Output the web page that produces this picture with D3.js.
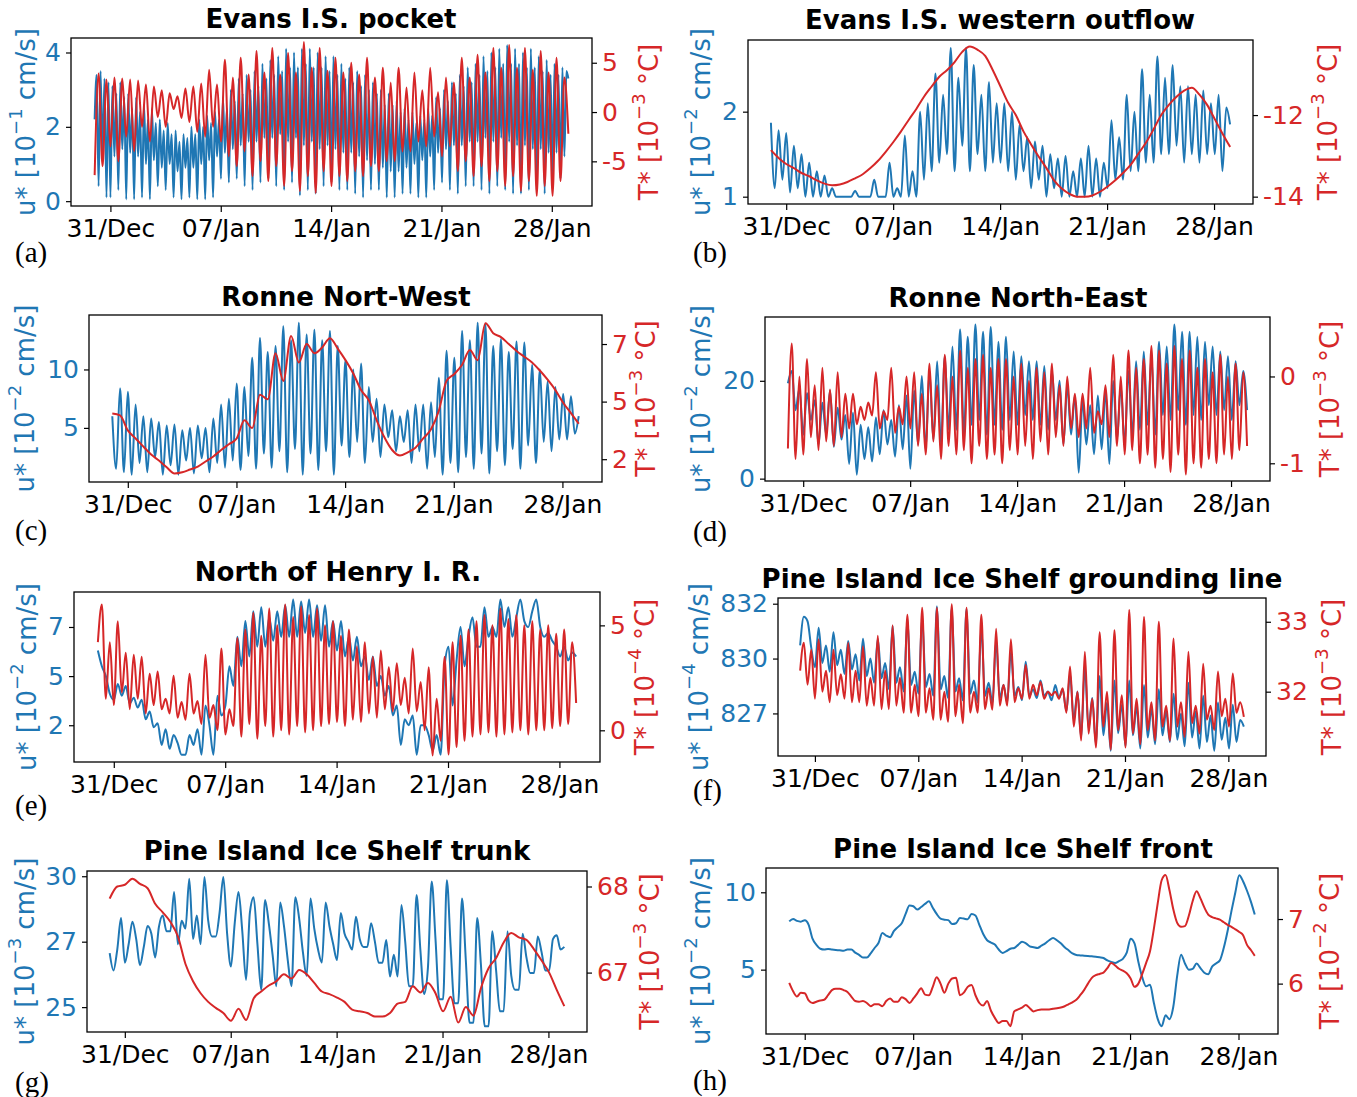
<!DOCTYPE html>
<html>
<head>
<meta charset="utf-8">
<script src="https://cdn.jsdelivr.net/npm/d3@7"></script>
<style>body{margin:0;background:#fff}</style>
</head>
<body>
<svg id="fig" width="1357" height="1097"></svg>
<script>
// time axis, in days from 31/Dec 00:00
const tStart = -1, tEnd = 29.05;
const xDomain = [-2.5, 30.55];
const tickDays = [0, 7, 14, 21, 28];
const tickLabels = ['31/Dec', '07/Jan', '14/Jan', '21/Jan', '28/Jan'];

const titles = ['Evans I.S. pocket', 'Evans I.S. western outflow', 'Ronne Nort-West', 'Ronne North-East',
  'North of Henry I. R.', 'Pine Island Ice Shelf grounding line', 'Pine Island Ice Shelf trunk', 'Pine Island Ice Shelf front'];
const tags = ['(a)', '(b)', '(c)', '(d)', '(e)', '(f)', '(g)', '(h)'];
const uExp = ['\u22121', '\u22122', '\u22122', '\u22122', '\u22122', '\u22124', '\u22123', '\u22122'];
const tExp = ['\u22123', '\u22123', '\u22123', '\u22123', '\u22124', '\u22123', '\u22123', '\u22122'];
// tick values (labels are printed as integers, like the original)
const uTicks = [[0, 2, 4], [1, 2], [5, 10], [0, 20], [2.5, 5, 7.5], [827.5, 830, 832.5], [25, 27.5, 30], [5, 10]];
const tTicks = [[-5, 0, 5], [-14, -12], [2.5, 5, 7.5], [-1, 0], [0, 5], [32, 33], [67, 68], [6, 7]];
const uLims = [[-0.13, 4.39], [0.914, 2.843], [0.37, 14.66], [-0.48, 33.04], [0.63, 9.28], [825.56, 832.76], [24.05, 30.2], [0.84, 11.57]];
const tLims = [[-9.53, 7.51], [-14.18, -10.16], [1.51, 8.76], [-1.204, 0.685], [-1.51, 6.59], [31.08, 33.34], [66.31, 68.18], [5.22, 7.79]];

// (a) Evans I.S. pocket
const uA = [
  2.2, 3.4, 0.4, 3.5, 1.2, 3.3, 0.1, 3.2,
  0.1, 3.1, 1.2, 2.9, 0.3, 3.2, 1.4, 2.8,
  0.05, 2.9, 1.3, 2.5, 0.05, 2.8, 1.2, 2.4,
  0.1, 2.6, 1.0, 2.2, 0.05, 2.5, 1.1, 2.1,
  0.4, 2.2, 0.9, 1.9, 0.3, 2.1, 1.0, 1.8,
  0.1, 1.9, 0.8, 1.6, 0.05, 1.8, 0.9, 1.7,
  0.1, 2.0, 0.9, 1.8, 0.05, 2.2, 1.0, 2.0,
  0.05, 2.3, 1.1, 2.1, 0.1, 2.4, 1.2, 2.2,
  0.6, 2.8, 1.3, 2.5, 0.5, 3.0, 1.4, 2.7,
  0.6, 3.3, 1.5, 2.9, 0.4, 3.4, 1.6, 3.0,
  0.3, 3.5, 1.6, 3.1, 0.5, 3.7, 1.7, 3.3,
  0.6, 3.8, 1.7, 3.4, 0.4, 3.9, 1.8, 3.5,
  0.3, 4.1, 1.6, 3.6, 0.5, 4.0, 1.7, 3.6,
  0.15, 4.1, 1.5, 3.7, 0.3, 4.1, 1.6, 3.6,
  0.2, 4.0, 1.4, 3.6, 0.4, 3.9, 1.5, 3.5,
  0.5, 3.9, 1.4, 3.4, 0.3, 3.7, 1.3, 3.3,
  0.3, 3.6, 1.3, 3.2, 0.2, 3.5, 1.2, 3.1,
  0.1, 3.4, 1.1, 3.0, 0.3, 3.2, 1.0, 2.9,
  0.3, 3.0, 0.9, 2.6, 0.1, 2.9, 0.8, 2.6,
  0.1, 2.7, 0.8, 2.4, 0.2, 2.5, 0.9, 2.2,
  0.2, 2.4, 1.0, 2.1, 0.1, 2.3, 1.1, 2.2,
  0.1, 2.5, 1.2, 2.3, 0.3, 2.8, 1.3, 2.5,
  0.5, 3.0, 1.4, 2.7, 0.3, 3.2, 1.5, 2.9,
  0.2, 3.4, 1.5, 3.1, 0.4, 3.6, 1.6, 3.2,
  0.4, 3.7, 1.6, 3.4, 0.3, 3.9, 1.7, 3.5,
  0.2, 4.0, 1.6, 3.6, 0.4, 4.1, 1.7, 3.7,
  0.3, 4.2, 1.6, 3.7, 0.2, 4.1, 1.5, 3.7,
  0.2, 4.0, 1.5, 3.6, 0.3, 4.1, 1.4, 3.6,
  0.3, 3.9, 1.4, 3.5, 0.2, 3.8, 1.3, 3.4,
  0.5, 3.7, 1.3, 3.4, 0.6, 3.6, 1.2, 3.5,
  3.3];
const tA = [
  -6.4, 3.9, -5.5, 3.3,  -3.5, 3.5, -5.0, 3.4,  -2.5, 3.3, -4.0, 3.2,
  -1.5, 2.8, -3.0, 2.6,  -0.5, 2.2, -1.5, 1.9,  0.3, 1.6, -0.6, 2.4,
  -1.0, 2.6, -2.0, 2.9,  -2.5, 4.3, -1.5, 2.8,  -3.0, 5.3, -4.5, 3.5,
  -5.5, 5.5, -4.0, 3.8,  -6.5, 6.2, -5.0, 4.0,  -7.0, 6.5, -5.5, 3.8,
  -7.5, 6.0, -6.0, 4.0,  -8.0, 7.1, -6.5, 4.5,  -8.2, 6.5, -6.0, 4.2,
  -7.5, 5.5, -6.5, 4.0,  -7.0, 5.0, -6.0, 3.8,  -6.5, 5.5, -5.5, 3.5,
  -6.0, 4.5, -5.0, 3.0,  -5.0, 4.5, -4.0, 2.5,  -4.0, 4.0, -3.0, 2.2,
  -3.5, 4.5, -2.5, 2.0,  -4.5, 3.5, -3.5, 3.0,  -6.0, 5.5, -5.0, 3.5,
  -6.5, 5.8, -5.5, 4.0,  -7.0, 6.5, -6.0, 4.5,  -7.5, 6.8, -6.5, 4.5,
  -8.0, 6.5, -7.0, 4.3,  -8.5, 6.2, -7.5, 4.0,  -8.5, 5.5, -7.0, 3.5,
  -2.2];

// (b) Evans I.S. western outflow
const uB = [
  1.87, 1.1, 1.78, 1.2,  1.75, 1.05, 1.6, 1.1,  1.5, 1.0, 1.4, 1.0,
  1.3, 1.0, 1.25, 1.0,  1.1, 1.0, 1.0, 1.0,  1.0, 1.0, 1.07, 1.0,
  1.0, 1.0, 1.0, 1.2,  1.0, 1.0, 1.0, 1.4,  1.0, 1.1, 1.0, 1.72,
  1.0, 1.3, 1.0, 2.0,  1.2, 2.1, 1.3, 2.45,  1.4, 2.2, 1.5, 2.75,
  1.3, 2.4, 1.6, 2.75,  1.3, 2.55, 1.5, 2.2,  1.3, 2.35, 1.4, 2.1,
  1.4, 2.1, 1.3, 2.0,  1.2, 1.85, 1.3, 1.7,  1.1, 1.65, 1.2, 1.6,
  1.0, 1.5, 1.1, 1.45,  1.0, 1.48, 1.0, 1.3,  1.0, 1.45, 1.0, 1.6,
  1.0, 1.45, 1.0, 1.4,  1.1, 1.9, 1.2, 1.7,  1.2, 2.2, 1.3, 2.0,
  1.3, 2.5, 1.4, 2.2,  1.4, 2.65, 1.5, 2.4,  1.5, 2.55, 1.6, 2.3,
  1.4, 2.3, 1.5, 2.2,  1.4, 2.25, 1.5, 2.1,  1.5, 2.2, 1.3, 2.05,
  1.85];
const tB = [
  -12.86, -13.05, -13.2, -13.3, -13.42, -13.5, -13.6, -13.68, -13.72, -13.7,
  -13.64, -13.55, -13.45, -13.3, -13.12, -12.9, -12.66, -12.4, -12.12, -11.85,
  -11.55, -11.3, -11.06, -10.9, -10.7, -10.45, -10.32, -10.4, -10.55, -10.9,
  -11.3, -11.7, -12.0, -12.4, -12.72, -13.02, -13.3, -13.6, -13.8, -13.93,
  -14.0, -14.0, -13.97, -13.88, -13.75, -13.6, -13.42, -13.22, -12.95, -12.68,
  -12.35, -12.0, -11.75, -11.55, -11.4, -11.33, -11.5, -11.75, -12.1, -12.45,
  -12.78];

// (c) Ronne Nort-West
const uC = [
  6.0, 1.5, 8.4, 1.2,  8.1, 1.0, 7.0, 2.0,  6.0, 1.2, 5.8, 2.5,
  5.5, 1.0, 5.2, 1.8,  5.3, 1.0, 4.8, 2.2,  5.0, 1.1, 5.2, 2.4,
  5.0, 1.2, 5.8, 2.0,  7.0, 1.6, 7.5, 2.2,  8.8, 1.4, 8.5, 2.6,
  11.0, 1.5, 12.7, 2.8,  11.5, 1.6, 12.0, 3.0,  13.7, 1.2, 12.5, 3.2,
  14.0, 1.0, 13.0, 2.8,  13.4, 1.4, 12.5, 3.0,  13.3, 1.0, 12.0, 3.5,
  10.8, 2.5, 10.0, 3.8,  10.5, 2.0, 8.5, 3.8,  7.5, 2.5, 7.0, 4.2,
  6.5, 3.0, 6.0, 3.8,  6.5, 2.0, 7.0, 3.0,  7.0, 1.5, 7.2, 2.5,
  9.3, 1.0, 11.6, 2.0,  11.0, 1.2, 13.3, 2.5,  12.5, 1.5, 14.0, 2.8,
  13.9, 1.1, 12.0, 3.0,  12.6, 1.8, 11.5, 3.2,  12.4, 1.5, 12.3, 3.5,
  10.4, 2.0, 10.0, 3.8,  9.0, 3.0, 8.5, 4.0,  7.9, 4.0, 7.7, 4.5,
  6.0];
const tC = [
  4.48, 4.4, 3.75, 3.4, 3.05, 2.7, 2.44, 2.15, 1.88, 1.93,
  2.05, 2.18, 2.4, 2.62, 2.9, 3.15, 3.4, 4.19, 3.85, 5.3,
  5.1, 7.1, 5.9, 7.85, 6.7, 7.5, 7.1, 7.35, 7.75, 7.3,
  6.8, 6.22, 5.5, 5.06, 4.2, 3.45, 2.9, 2.66, 2.8, 3.0,
  3.4, 3.8, 4.6, 5.9, 6.2, 6.6, 7.24, 6.8, 8.4, 7.97,
  7.8, 7.5, 7.2, 6.95, 6.7, 6.35, 5.95, 5.5, 4.95, 4.5,
  4.04];

// (d) Ronne North-East
const uD = [
  19.5, 22.0, 14.0, 18.5,  9.0, 17.5, 12.0, 16.0,  7.0, 15.5, 9.0, 18.0,
  6.5, 14.5, 8.0, 13.0,  3.0, 13.5, 0.8, 11.0,  4.0, 10.5, 3.5, 12.5,
  5.0, 14.0, 7.0, 12.0,  4.5, 15.0, 6.0, 17.0,  2.0, 18.0, 7.0, 21.0,
  6.0, 22.0, 8.0, 24.0,  7.0, 25.0, 10.0, 27.0,  10.0, 30.5, 9.0, 29.0,
  11.0, 31.5, 12.0, 30.0,  9.0, 31.0, 11.0, 28.0,  10.0, 29.0, 12.0, 26.0,
  11.0, 25.0, 13.0, 24.0,  12.0, 24.0, 11.0, 23.0,  10.0, 22.0, 12.0, 20.0,
  7.0, 19.0, 9.0, 17.0,  1.2, 16.0, 7.0, 15.0,  5.0, 17.0, 6.0, 18.0,
  3.0, 20.0, 8.0, 19.0,  7.0, 22.0, 9.0, 24.0,  10.0, 26.0, 11.0, 25.0,
  9.0, 28.0, 13.0, 27.0,  12.0, 31.5, 14.0, 30.0,  11.0, 30.0, 13.0, 29.0,
  12.0, 28.0, 15.0, 27.0,  13.0, 26.0, 14.0, 25.0,  12.0, 24.0, 15.0, 22.0,
  14.0];
const tD = [
  -0.83, 0.38, -0.95, 0.0,  -0.9, 0.2, -0.7, -0.1,  -0.85, 0.1, -0.75, -0.15,
  -0.8, 0.05, -0.7, -0.2,  -0.6, -0.2, -0.55, -0.35,  -0.5, -0.3, -0.45, 0.05,
  -0.6, -0.4, -0.5, 0.1,  -0.65, -0.35, -0.55, 0.0,  -0.6, 0.05, -0.8, -0.2,
  -0.9, 0.15, -0.75, -0.1,  -0.95, 0.25, -0.8, 0.0,  -0.9, 0.3, -0.85, 0.1,
  -1.0, 0.2, -0.8, 0.25,  -0.95, 0.1, -0.9, 0.2,  -1.0, 0.2, -0.85, 0.0,
  -0.9, 0.15, -0.8, -0.05,  -0.95, 0.1, -0.75, 0.05,  -0.9, 0.15, -0.7, -0.1,
  -0.8, 0.0, -0.6, -0.2,  -0.7, -0.2, -0.6, 0.1,  -0.65, -0.4, -0.55, -0.1,
  -0.7, 0.25, -0.8, 0.0,  -0.9, 0.3, -0.85, 0.1,  -1.0, 0.2, -0.9, 0.35,
  -1.05, 0.3, -0.95, 0.15,  -1.1, 0.35, -0.9, 0.2,  -1.13, 0.3, -1.0, 0.1,
  -1.05, 0.2, -0.95, 0.05,  -1.0, 0.25, -0.9, 0.0,  -0.95, 0.15, -0.85, 0.05,
  -0.8];

// (e) North of Henry I. R.
const uE = [
  6.3, 5.5, 5.0, 4.1,  3.8, 4.6, 4.0, 4.5,  3.6, 3.9, 3.4, 3.8,
  2.8, 3.2, 2.4, 2.6,  1.5, 2.3, 1.3, 2.0,  1.6, 1.0, 1.0, 2.0,
  1.5, 2.3, 1.0, 3.5,  2.5, 1.0, 4.0, 3.0,  3.5, 5.5, 4.5, 7.0,
  5.5, 7.8, 6.0, 8.3,  6.5, 8.5, 6.5, 8.0,  6.8, 8.3, 7.0, 8.6,
  7.0, 8.9, 7.0, 8.8,  7.2, 8.9, 7.0, 8.6,  6.8, 8.6, 6.5, 7.8,
  6.3, 7.8, 6.0, 7.0,  5.8, 7.0, 5.5, 6.0,  4.8, 6.0, 4.5, 5.0,
  4.0, 4.5, 3.0, 3.5,  1.5, 2.8, 2.5, 3.0,  1.0, 2.5, 2.5, 2.0,
  1.2, 2.0, 1.0, 5.5,  6.5, 3.5, 5.8, 7.5,  5.5, 7.0, 8.0, 6.5,
  6.5, 8.5, 7.0, 7.5,  7.0, 8.9, 7.5, 8.5,  7.0, 8.0, 8.9, 7.8,
  7.5, 8.3, 8.9, 7.5,  7.0, 7.2, 6.8, 6.5,  6.0, 6.5, 5.8, 6.2,
  6.0];
const tE = [
  4.2, 6.0, 1.5, 4.2,  1.2, 5.2, 1.8, 3.7,  1.0, 3.6, 1.5, 3.5,
  0.8, 2.7, 1.2, 2.8,  1.0, 1.5, 0.8, 2.6,  0.6, 1.35, 0.5, 2.7,
  0.8, 1.4, 0.3, 3.6,  0.6, 1.2, 0.0, 3.9,  -0.2, 1.0, 0.2, 4.4,
  -0.3, 4.8, 0.3, 5.6,  -0.4, 4.5, 0.2, 5.8,  -0.3, 5.0, 0.0, 6.0,
  -0.2, 5.4, 0.2, 5.9,  -0.1, 5.5, 0.0, 5.8,  0.2, 5.0, 0.3, 5.2,
  0.4, 4.5, 0.2, 4.8,  0.5, 4.0, 0.4, 4.2,  0.8, 3.5, 0.6, 3.8,
  1.0, 3.0, 0.9, 3.2,  1.2, 2.5, 0.8, 3.9,  0.9, 2.3, 0.0, 3.0,
  -1.2, 1.5, -0.5, 3.5,  -1.15, 4.2, -0.8, 4.5,  -0.5, 4.8, -0.3, 5.2,
  -0.2, 5.5, -0.1, 5.0,  -0.3, 5.8, -0.2, 5.3,  -0.1, 5.5, 0.0, 5.0,
  -0.2, 5.2, 0.0, 4.8,  0.0, 5.0, 0.1, 4.6,  0.2, 4.8, 0.3, 4.2,
  1.3];

// (f) Pine Island Ice Shelf grounding line
const uF = [
  830.6, 831.9, 831.7, 830.5,  829.6, 831.4, 829.8, 830.6,  829.4, 831.2, 829.7, 830.4,
  829.3, 830.8, 829.5, 830.2,  829.0, 830.9, 829.2, 830.0,  828.9, 830.9, 829.1, 829.8,
  828.6, 831.5, 828.9, 829.6,  828.5, 831.8, 828.8, 829.4,  828.4, 831.9, 828.7, 829.3,
  828.3, 832.38, 828.6, 829.2,  828.2, 832.3, 828.5, 829.1,  828.1, 832.27, 828.4, 829.0,
  828.0, 831.4, 828.3, 828.9,  827.95, 830.8, 828.2, 828.8,  828.0, 830.3, 828.3, 828.7,
  828.1, 829.85, 828.3, 828.6,  828.2, 829.0, 828.3, 828.5,  828.1, 828.8, 828.2, 828.6,
  827.6, 829.3, 827.2, 828.5,  826.4, 829.6, 826.8, 828.2,  826.1, 829.2, 826.5, 828.0,
  825.8, 829.0, 826.6, 827.9,  826.0, 829.0, 826.5, 827.8,  825.9, 828.8, 826.4, 827.7,
  826.1, 828.6, 826.5, 827.6,  826.2, 828.4, 826.3, 827.5,  826.0, 828.9, 826.4, 827.6,
  825.9, 828.3, 826.2, 827.4,  825.8, 828.0, 826.3, 827.3,  825.9, 827.9, 826.2, 827.2,
  826.9];
const tF = [
  32.3, 32.7, 32.1, 32.6,  31.9, 32.75, 32.0, 32.3,  31.85, 32.6, 31.95, 32.25,
  31.9, 32.7, 31.85, 32.3,  31.85, 32.65, 31.8, 32.2,  31.8, 32.8, 31.75, 32.3,
  31.75, 32.95, 31.8, 32.2,  31.7, 33.1, 31.7, 32.1,  31.65, 33.2, 31.7, 32.05,
  31.6, 33.2, 31.6, 32.0,  31.57, 33.25, 31.65, 32.1,  31.55, 33.2, 31.7, 32.0,
  31.7, 33.1, 31.75, 32.05,  31.74, 32.9, 31.8, 32.1,  31.8, 32.75, 31.85, 32.05,
  31.9, 32.38, 31.9, 32.1,  31.95, 32.14, 31.9, 32.0,  31.95, 32.0, 31.9, 32.05,
  31.7, 32.36, 31.5, 32.0,  31.3, 32.57, 31.4, 31.9,  31.2, 32.85, 31.5, 32.0,
  31.17, 32.88, 31.45, 31.95,  31.2, 33.17, 31.4, 31.9,  31.25, 33.07, 31.45, 31.85,
  31.3, 33.0, 31.5, 31.8,  31.3, 32.76, 31.5, 31.85,  31.35, 32.57, 31.55, 31.8,
  31.4, 32.4, 31.6, 31.8,  31.45, 32.29, 31.65, 31.9,  31.5, 32.26, 31.7, 31.85,
  31.64];

// (g) Pine Island Ice Shelf trunk
const uG = [
  27.06, 26.4, 27.2, 28.4,  26.7, 27.4, 28.26, 27.6,  26.6, 27.3, 28.1, 27.8,
  26.9, 28.07, 28.5, 27.9,  27.9, 29.4, 27.4, 28.3,  28.0, 29.9, 27.6, 28.5,
  27.4, 29.97, 28.3, 27.7,  27.7, 28.6, 29.97, 27.8,  26.55, 28.2, 29.4, 27.9,
  26.04, 28.6, 29.2, 27.4,  25.66, 29.09, 28.2, 27.0,  25.8, 29.0, 28.1, 26.8,
  25.8, 29.2, 28.4, 27.1,  26.2, 29.15, 28.0, 27.2,  26.7, 29.0, 28.1, 27.4,
  26.8, 28.6, 27.8, 27.5,  27.2, 28.45, 27.6, 27.3,  27.3, 28.2, 27.5, 26.7,
  26.7, 27.56, 26.17, 27.0,  26.17, 28.9, 27.5, 25.8,  25.8, 29.28, 27.2, 25.5,
  26.5, 29.8, 27.6, 25.3,  25.3, 29.85, 27.3, 25.15,  25.15, 29.15, 26.8, 24.4,
  24.4, 28.4, 26.6, 24.27,  24.27, 27.9, 26.4, 24.84,  24.84, 27.9, 26.2, 25.66,
  25.66, 27.8, 26.9, 26.3,  26.3, 27.7, 27.1, 26.4,  26.4, 27.6, 27.75, 27.2,
  27.3];
const tG = [
  67.86, 68.0, 68.02, 68.09, 68.03, 67.98, 67.8, 67.7, 67.59, 67.42,
  67.1, 66.9, 66.76, 66.66, 66.59, 66.53, 66.44, 66.58, 66.45, 66.7,
  66.78, 66.85, 66.9, 66.98, 66.93, 67.03, 66.98, 66.88, 66.78, 66.75,
  66.71, 66.66, 66.57, 66.55, 66.53, 66.49, 66.49, 66.53, 66.64, 66.66,
  66.84, 66.77, 66.88, 66.76, 66.55, 66.72, 66.42, 66.6, 66.5, 66.82,
  67.05, 67.17, 67.35, 67.46, 67.41, 67.38, 67.27, 67.14, 67.0, 66.8,
  66.61];

// (h) Pine Island Ice Shelf front
const uH = [
  8.12, 8.28, 8.15, 8.1,  8.19, 7.9, 7.0, 6.6,  6.35, 6.3, 6.34, 6.3,
  6.27, 6.25, 6.22, 6.3,  6.3, 6.1, 5.95, 5.78,  5.78, 6.05, 6.4, 6.72,
  7.37, 7.2, 7.1, 7.5,  7.75, 8.0, 8.6, 9.15,  9.1, 8.88, 9.05, 9.25,
  9.42, 9.0, 8.6, 8.3,  8.23, 8.2, 7.95, 8.0,  8.34, 8.3, 8.25, 8.6,
  8.5, 7.9, 7.3, 6.9,  6.75, 6.62, 6.3, 6.08,  6.2, 6.35, 6.4, 6.6,
  6.8, 6.7, 6.51, 6.45,  6.4, 6.55, 6.7, 6.9,  7.05, 6.9, 6.7, 6.45,
  6.25, 6.05, 5.95, 5.92,  5.9, 5.88, 5.86, 5.84,  5.8, 5.75, 5.6, 5.5,
  5.43, 5.55, 5.7, 6.1,  7.0, 6.7, 5.5, 4.5,  3.92, 4.03, 2.84, 1.8,
  1.34, 2.05, 1.8, 2.6,  4.6, 5.97, 5.4, 5.0,  5.05, 5.4, 5.1, 4.8,
  4.7, 5.2, 5.4, 5.6,  6.4, 7.5, 8.8, 10.0,  11.1, 10.7, 10.1, 9.4,
  8.56];
const tH = [
  6.01, 5.88, 5.8, 5.86,  5.85, 5.74, 5.7, 5.72,  5.74, 5.75, 5.82, 5.9,
  5.92, 5.92, 5.9, 5.87,  5.8, 5.73, 5.72, 5.73,  5.7, 5.65, 5.68, 5.68,
  5.65, 5.73, 5.77, 5.72,  5.72, 5.79, 5.76, 5.7,  5.77, 5.85, 5.93, 5.83,
  5.82, 5.95, 6.1, 6.0,  5.86, 6.0, 6.08, 6.09,  5.82, 5.86, 5.95, 5.98,
  5.82, 5.7, 5.66, 5.73,  5.58, 5.47, 5.39, 5.42,  5.42, 5.34, 5.57, 5.6,
  5.63, 5.67, 5.62, 5.57,  5.59, 5.6, 5.6, 5.6,  5.61, 5.62, 5.63, 5.65,
  5.68, 5.71, 5.75, 5.82,  5.9, 6.0, 6.09, 6.13,  6.15, 6.17, 6.24, 6.32,
  6.28, 6.23, 6.2, 6.16,  6.08, 5.95, 6.0, 6.15,  6.32, 6.5, 6.85, 7.25,
  7.6, 7.68, 7.45, 7.15,  6.94, 6.88, 6.89, 7.05,  7.28, 7.43, 7.32, 7.18,
  7.07, 7.03, 7.01, 6.99,  6.95, 6.91, 6.88, 6.84,  6.8, 6.75, 6.6, 6.52,
  6.43];

const uSeries = [uA, uB, uC, uD, uE, uF, uG, uH];
const tSeries = [tA, tB, tC, tD, tE, tF, tG, tH];

// page layout: axes box [x0, y0, x1, y1], title anchor, tag anchor, y-label x positions
const layout = [
  {box: [71, 38, 592, 206],    title: [331, 28],   tag: [15, 262],  uLab: 26,  tLab: 649},
  {box: [748, 40, 1253, 204],  title: [1000, 29],  tag: [693, 262], uLab: 701, tLab: 1328},
  {box: [89, 315, 602, 482],   title: [346, 306],  tag: [15, 540],  uLab: 25,  tLab: 646},
  {box: [765, 317, 1270, 481], title: [1018, 307], tag: [693, 541], uLab: 701, tLab: 1330},
  {box: [74, 592, 600, 762],   title: [338, 581],  tag: [15, 815],  uLab: 27,  tLab: 645},
  {box: [778, 598, 1266, 756], title: [1022, 588], tag: [693, 800], uLab: 699, tLab: 1332},
  {box: [87, 871, 587, 1032],  title: [337, 860],  tag: [15, 1092], uLab: 25,  tLab: 650},
  {box: [766, 868, 1278, 1034], title: [1023, 858], tag: [693, 1090], uLab: 701, tLab: 1330}
];

const BLUE = '#1f77b4', RED = '#d62728';
const FONT = 'DejaVu Sans';

const svg = d3.select('#fig');
svg.append('rect').attr('width', 1357).attr('height', 1097).attr('fill', '#fff');

function addText(g, x, y, o) {
  let tr = `translate(${x},${y})`;
  if (o.rot) tr += ` rotate(${o.rot})`;
  return g.append('text')
    .attr('transform', tr)
    .attr('text-anchor', o.anchor || 'middle')
    .attr('font-family', o.family || FONT)
    .attr('font-size', o.size)
    .attr('font-weight', o.weight || 'normal')
    .attr('fill', o.color || '#000');
}

function unitLabel(g, x, y, sym, exp, unit, color) {
  const t = addText(g, x, y, {rot: -90, size: 26, color: color})
    .attr('dominant-baseline', 'central');
  t.append('tspan').text(sym + ' [10');
  t.append('tspan').attr('dy', -11).attr('font-size', 18).text(exp);
  t.append('tspan').attr('dy', 11).text(' ' + unit + ']');
}

function timesOf(vals) {
  const step = (tEnd - tStart) / (vals.length - 1);
  return vals.map((v, i) => [tStart + i * step, v]);
}

function styleAxis(ax, color) {
  ax.select('.domain').remove();
  ax.selectAll('line').attr('stroke', '#000').attr('stroke-width', 1.2);
  ax.selectAll('text').attr('font-family', FONT).attr('font-size', 25).attr('fill', color);
}

layout.forEach((p, k) => {
  const [x0, y0, x1, y1] = p.box;
  const g = svg.append('g');
  const x = d3.scaleLinear().domain(xDomain).range([x0, x1]);
  const yU = d3.scaleLinear().domain(uLims[k]).range([y1, y0]);
  const yT = d3.scaleLinear().domain(tLims[k]).range([y1, y0]);

  const clipId = 'clip' + k;
  svg.append('clipPath').attr('id', clipId)
    .append('rect').attr('x', x0).attr('y', y0).attr('width', x1 - x0).attr('height', y1 - y0);

  const lineU = d3.line().x(d => x(d[0])).y(d => yU(d[1])).curve(d3.curveMonotoneX);
  const lineT = d3.line().x(d => x(d[0])).y(d => yT(d[1])).curve(d3.curveMonotoneX);
  const plot = g.append('g').attr('clip-path', `url(#${clipId})`);
  plot.append('path').datum(timesOf(uSeries[k])).attr('d', lineU)
    .attr('fill', 'none').attr('stroke', BLUE).attr('stroke-width', 2).attr('stroke-linejoin', 'round');
  plot.append('path').datum(timesOf(tSeries[k])).attr('d', lineT)
    .attr('fill', 'none').attr('stroke', RED).attr('stroke-width', 2).attr('stroke-linejoin', 'round');

  g.append('rect').attr('x', x0).attr('y', y0).attr('width', x1 - x0).attr('height', y1 - y0)
    .attr('fill', 'none').attr('stroke', '#000').attr('stroke-width', 1.3);

  const ax = g.append('g').attr('transform', `translate(0,${y1})`)
    .call(d3.axisBottom(x).tickValues(tickDays).tickFormat((d, i) => tickLabels[i])
      .tickSizeInner(6).tickSizeOuter(0).tickPadding(7));
  styleAxis(ax, '#000');

  const al = g.append('g').attr('transform', `translate(${x0},0)`)
    .call(d3.axisLeft(yU).tickValues(uTicks[k]).tickFormat(d => String(Math.trunc(d)))
      .tickSizeInner(5).tickSizeOuter(0).tickPadding(5));
  styleAxis(al, BLUE);

  const ar = g.append('g').attr('transform', `translate(${x1},0)`)
    .call(d3.axisRight(yT).tickValues(tTicks[k]).tickFormat(d => String(Math.trunc(d)))
      .tickSizeInner(5).tickSizeOuter(0).tickPadding(5));
  styleAxis(ar, RED);

  addText(g, p.title[0], p.title[1], {size: 26, weight: 'bold'}).text(titles[k]);
  addText(g, p.tag[0], p.tag[1], {size: 29, anchor: 'start', family: 'Liberation Serif'}).text(tags[k]);

  const yc = (y0 + y1) / 2;
  unitLabel(g, p.uLab, yc, 'u*', uExp[k], 'cm/s', BLUE);
  unitLabel(g, p.tLab, yc, 'T*', tExp[k], '\u00b0C', RED);
});
</script>
</body>
</html>
